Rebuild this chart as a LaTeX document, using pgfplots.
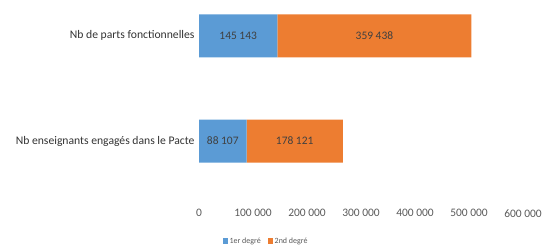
\documentclass[border=0pt]{standalone}
\usepackage{pgfplots}
\pgfplotsset{compat=1.18}
\usepackage{fontspec}
\setmainfont{Carlito}
\definecolor{blueA}{HTML}{5B9BD5}
\definecolor{orangeA}{HTML}{ED7D31}
\definecolor{txtgray}{HTML}{595959}
\begin{document}
\begin{tikzpicture}
\useasboundingbox (0,0) rectangle (550bp,250bp);
\begin{axis}[
  at={(199bp,50bp)}, anchor=south west,
  scale only axis, width=324bp, height=200bp,
  xbar stacked, bar width=43bp,
  xmin=0, xmax=600000, ymin=-0.56, ymax=1.34,
  ytick={0,1},
  yticklabels={Nb enseignants engagés dans le Pacte, Nb de parts fonctionnelles},
  yticklabel style={font=\fontsize{11.7}{13}\selectfont, text=black!80, xshift=-1bp},
  xtick={0,100000,200000,300000,400000,500000,600000},
  scaled x ticks=false,
  xticklabel style={font=\fontsize{11.5}{13}\selectfont, text=txtgray, yshift=-6bp,
    /pgf/number format/.cd, fixed, 1000 sep={\ }, assume math mode=true},
  axis line style={draw=none},
  major tick length=0pt,
  point meta=rawx,
  nodes near coords={\pgfmathprintnumber[fixed,1000 sep={\ },assume math mode=true]{\pgfplotspointmeta}},
  nodes near coords align=center,
  every node near coord/.append style={font=\fontsize{11.5}{13}\selectfont, text=black!75},
  legend style={at={(0.207,-0.205)}, anchor=center, draw=none, legend columns=2,
    font=\fontsize{8}{9}\selectfont, text=txtgray,
    /tikz/every even column/.append style={column sep=5bp}},
  legend image code/.code={\fill[#1] (0bp,-2.5bp) rectangle (5bp,2.5bp);},
]
\addplot[fill=blueA, draw=none] coordinates {(88107,0) (145143,1)};
\addplot[fill=orangeA, draw=none] coordinates {(178121,0) (359438,1)};
\legend{1er degré, 2nd degré}
\end{axis}
\end{tikzpicture}
\end{document}
